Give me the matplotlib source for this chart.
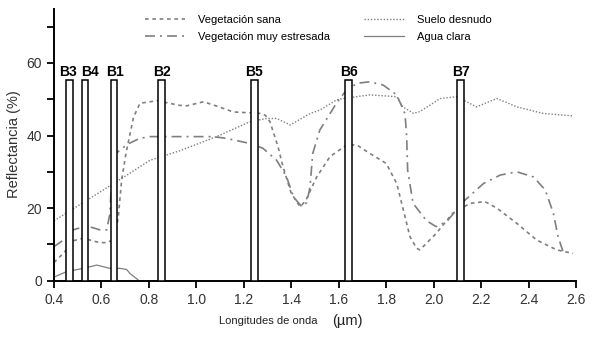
import numpy as np
import matplotlib
matplotlib.use("Agg")
import matplotlib.pyplot as plt

plt.rcParams['font.family'] = ['Liberation Sans', 'DejaVu Sans']

# Vegetación sana
sana_x = [0.40, 0.446, 0.48, 0.523, 0.552, 0.58, 0.60, 0.622, 0.64, 0.657, 0.671, 0.685, 0.703,
          0.735, 0.762, 0.805, 0.834, 0.93, 0.96, 1.03, 1.10, 1.155, 1.184, 1.268, 1.29, 1.31,
          1.344, 1.365, 1.40, 1.437, 1.46, 1.507, 1.563, 1.633, 1.676, 1.73, 1.80, 1.844, 1.872,
          1.90, 1.928, 1.942, 2.01, 2.08, 2.153, 2.216, 2.266, 2.35, 2.434, 2.518, 2.587]
sana_y = [5.0, 8.0, 11.0, 11.7, 11.2, 10.7, 10.5, 10.5, 11.0, 12.1, 17.6, 27.7, 35.0,
          45.0, 48.9, 49.3, 49.6, 48.3, 48.2, 49.3, 47.8, 46.5, 46.4, 46.1, 45.6, 43.8,
          36.9, 31.4, 24.0, 20.4, 22.0, 28.6, 34.2, 37.4, 37.4, 35.1, 32.3, 26.8, 19.5,
          12.1, 8.9, 8.5, 13.0, 18.6, 21.3, 21.8, 20.0, 15.8, 11.2, 8.5, 7.5]

# Vegetación muy estresada
estr_x = [0.40, 0.44, 0.48, 0.538, 0.594, 0.622, 0.636, 0.643, 0.65, 0.66, 0.707, 0.76, 0.805,
          1.07, 1.128, 1.226, 1.28, 1.338, 1.38, 1.41, 1.444, 1.465, 1.479, 1.49, 1.52, 1.59,
          1.626, 1.676, 1.73, 1.787, 1.844, 1.879, 1.886, 1.89, 1.913, 1.97, 2.01, 2.055, 2.125,
          2.21, 2.28, 2.35, 2.42, 2.47, 2.504, 2.524, 2.545]
estr_y = [9.4, 11.2, 14.0, 15.1, 14.0, 14.0, 18.6, 28.6, 33.0, 35.0, 37.5, 39.2, 39.7,
          39.7, 39.2, 37.8, 36.5, 33.2, 28.6, 23.0, 20.4, 21.5, 25.9, 35.0, 41.5, 48.9,
          52.0, 54.4, 54.8, 53.9, 51.2, 46.0, 39.7, 30.5, 21.3, 16.5, 14.9, 16.3, 21.8,
          26.8, 29.1, 30.0, 28.6, 25.0, 18.6, 12.1, 8.0]

# Suelo desnudo
suelo_x = [0.40, 0.664, 0.805, 0.93, 1.085, 1.226, 1.296, 1.338, 1.395, 1.48, 1.52, 1.59,
           1.618, 1.73, 1.844, 1.87, 1.915, 1.942, 1.985, 2.027, 2.097, 2.18, 2.266, 2.35,
           2.46, 2.587]
suelo_y = [16.5, 27.3, 33.2, 35.8, 39.7, 43.8, 44.7, 44.7, 42.9, 46.1, 47.0, 49.8,
           50.2, 51.2, 50.7, 47.9, 46.1, 46.6, 48.4, 50.2, 50.7, 47.9, 50.2, 47.9,
           46.1, 45.4]

# Agua clara
agua_x = [0.40, 0.453, 0.523, 0.58, 0.636, 0.678, 0.706, 0.72, 0.755]
agua_y = [1.0, 2.5, 3.4, 4.3, 3.4, 3.4, 3.1, 2.0, 0.2]

# bandas
band_names = ['B3', 'B4', 'B1', 'B2', 'B5', 'B6', 'B7']
band_lo = [0.449, 0.517, 0.639, 0.837, 1.230, 1.628, 2.099]
band_hi = [0.478, 0.545, 0.667, 0.868, 1.258, 1.656, 2.127]
band_label_x = [0.459, 0.552, 0.658, 0.856, 1.244, 1.642, 2.113]
band_top = 55.3

grey = '#7f7f7f'

fig = plt.figure(figsize=(5.92, 3.4), dpi=100)
ax = fig.add_axes([0.0912, 0.1744, 0.882, 0.8006])

ax.plot(sana_x, sana_y, color=grey, lw=1.2, dashes=(2.2, 2.2), label='Vegetación sana')
ax.plot(estr_x, estr_y, color=grey, lw=1.2, dashes=(6, 3, 1.2, 3), label='Vegetación muy estresada')
ax.plot(suelo_x, suelo_y, color=grey, lw=1.0, dashes=(1, 1.3), label='Suelo desnudo')
ax.plot(agua_x, agua_y, color=grey, lw=0.9, label='Agua clara')

lo = np.array(band_lo)
hi = np.array(band_hi)
ax.bar(lo, band_top, width=hi - lo, align='edge', bottom=0, facecolor='white',
       edgecolor='black', linewidth=1.1, zorder=3)
for name, xl in zip(band_names, band_label_x):
    ax.text(xl, 56.3, name, ha='center', va='baseline', fontsize=10,
            fontweight='bold', zorder=4)

ax.set_xlim(0.4, 2.6)
ax.set_ylim(0, 75)
ax.set_xticks(np.arange(0.4, 2.61, 0.2))
ax.set_xticklabels(['%.1f' % v for v in np.arange(0.4, 2.61, 0.2)])
ax.set_yticks([0, 20, 40, 60])
ax.set_yticks([10, 30, 50, 70], minor=True)
ax.tick_params(axis='both', which='both', direction='out', length=5, width=1.3,
               labelsize=10, colors='black', labelcolor='#333333')
for s in ['top', 'right']:
    ax.spines[s].set_visible(False)
for s in ['left', 'bottom']:
    ax.spines[s].set_linewidth(1.4)

ax.set_ylabel('Reflectancia (%)', fontsize=10.5, color='#333333', labelpad=4)
fig.text(0.37, 0.057, 'Longitudes de onda', fontsize=8, color='#222222', va='center')
fig.text(0.561, 0.057, '(µm)', fontsize=10.5, color='#222222', va='center')

ax.legend(loc='upper left', bbox_to_anchor=(145 / 592, 1 - 15 / 340),
          bbox_transform=fig.transFigure, ncol=2, frameon=False, fontsize=8,
          handlelength=3.6, handletextpad=1.2, columnspacing=3.0, labelspacing=0.6,
          borderpad=0, borderaxespad=0)

fig.savefig('out.png', dpi=100)
